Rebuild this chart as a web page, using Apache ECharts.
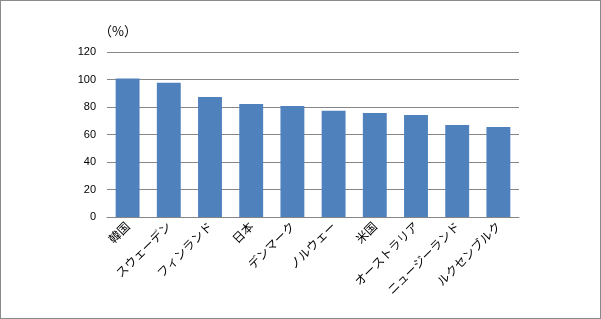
<!DOCTYPE html>
<html><head><meta charset="utf-8">
<script src="https://cdn.jsdelivr.net/npm/echarts@6/dist/echarts.min.js"></script>
<style>
html,body{margin:0;padding:0;background:#fff;}
#frame{position:absolute;left:0;top:0;width:599px;height:317px;border:1px solid #8a8a8a;}
#c{position:absolute;left:0;top:0;width:601px;height:319px;}
</style></head>
<body><div id="frame"></div><div id="c"></div>
<script>
const categories = ['韓国','スウェーデン','フィンランド','日本','デンマーク','ノルウェー','米国','オーストラリア','ニュージーランド','ルクセンブルク'];
const values = [101.0, 97.9, 87.4, 82.3, 80.9, 77.4, 75.8, 74.3, 67.0, 65.6];
const unitLabel = '（%）';
const yMin = 0, yMax = 120, yStep = 20;

const chart = echarts.init(document.getElementById('c'), null, {renderer:'canvas'});
chart.setOption({
  animation:false,
  textStyle:{fontFamily:'"Noto Sans CJK JP", sans-serif'},
  grid:{left:107, right:82, top:52.3, bottom:102, containLabel:false},
  graphic:[{type:'text', left:99, top:25, style:{text:unitLabel, fontSize:13, fill:'#000', fontFamily:'"Noto Sans CJK JP", sans-serif'}}],
  xAxis:{type:'category', data:categories,
    axisLine:{lineStyle:{color:'#868686', width:1}},
    axisTick:{show:false},
    axisLabel:{rotate:45, interval:0, color:'#000', fontSize:12, margin:7, fontFamily:'"Noto Sans CJK JP", sans-serif'}},
  yAxis:{type:'value', min:yMin, max:yMax, interval:yStep,
    axisLine:{show:false}, axisTick:{show:false},
    splitLine:{lineStyle:{color:'#868686', width:1}},
    axisLabel:{color:'#000', fontSize:11, margin:11, fontFamily:'Arial, "Liberation Sans", sans-serif'}},
  series:[{type:'bar', data:values, barWidth:'58%', itemStyle:{color:'#4f81bd'}}]
});
</script></body></html>
